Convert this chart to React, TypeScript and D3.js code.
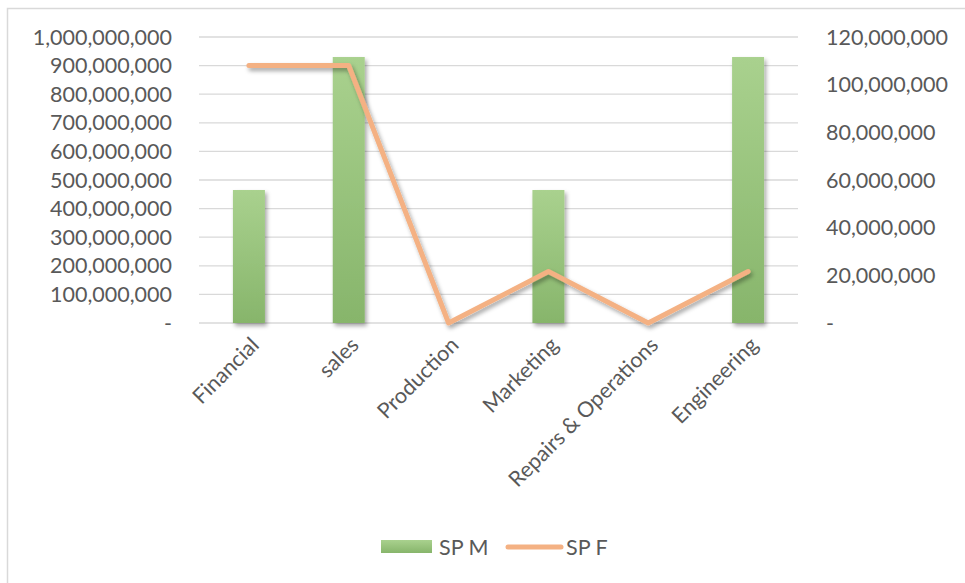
import React from "react";
import * as d3 from "d3";

const categories = ["Financial", "sales", "Production", "Marketing", "Repairs & Operations", "Engineering"];
const spM = [465000000, 930000000, 0, 465000000, 0, 930000000];
const spF = [108000000, 108000000, 0, 21600000, 0, 21600000];
const leftTicks = [0, 100e6, 200e6, 300e6, 400e6, 500e6, 600e6, 700e6, 800e6, 900e6, 1000e6];
const rightTicks = [0, 20e6, 40e6, 60e6, 80e6, 100e6, 120e6];

const W = 965;
const H = 583;
const font = "Lato, 'Open Sans', sans-serif";
const textColor = "#595959";
const fs = 21.5;

export default function App() {
  const left = 199;
  const right = 798;
  const top = 37;
  const bottom = 323;

  const x = d3.scaleBand().domain(categories).range([left, right]);
  const yL = d3.scaleLinear().domain([0, 1e9]).range([bottom, top]);
  const yR = d3.scaleLinear().domain([0, 120e6]).range([bottom, top]);
  const fmt = (v: number) => (v === 0 ? "-" : d3.format(",")(v));
  const barW = 32;

  const line = d3
    .line<number>()
    .x((d, i) => x(categories[i])! + x.bandwidth() / 2)
    .y(d => yR(d));

  return (
    <svg width={W} height={H} style={{ position: "absolute", left: 0, top: 0 }}>
      <defs>
        <linearGradient id="barGrad" x1="0" y1="0" x2="0" y2="1">
          <stop offset="0%" stopColor="#A9D18E" />
          <stop offset="100%" stopColor="#87B56B" />
        </linearGradient>
        <filter id="shadow" x="-20%" y="-20%" width="140%" height="140%">
          <feDropShadow dx="2" dy="3" stdDeviation="2" floodColor="#000" floodOpacity="0.35" />
        </filter>
      </defs>
      <rect x={0} y={0} width={W} height={H} fill="#fff" />
      <rect x={7.5} y={8.5} width={W + 20} height={H + 20} fill="none" stroke="#D9D9D9" strokeWidth={1.5} />

      {/* gridlines */}
      {leftTicks.map(t => (
        <line key={t} x1={left} x2={right} y1={yL(t)} y2={yL(t)} stroke="#D9D9D9" strokeWidth={1.3} />
      ))}

      {/* left axis */}
      {leftTicks.map(t => (
        <text key={t} x={172} y={yL(t)} dy="0.35em" textAnchor="end" fontFamily={font} fontSize={fs} fill={textColor}>
          {fmt(t)}
        </text>
      ))}

      {/* right axis */}
      {rightTicks.map(t => (
        <text key={t} x={826} y={yR(t)} dy="0.35em" textAnchor="start" fontFamily={font} fontSize={fs} fill={textColor}>
          {fmt(t)}
        </text>
      ))}

      {/* bars */}
      {spM.map((v, i) => (
        <rect
          key={categories[i]}
          x={x(categories[i])! + x.bandwidth() / 2 - barW / 2}
          y={yL(v)}
          width={barW}
          height={bottom - yL(v)}
          fill="url(#barGrad)"
          filter="url(#shadow)"
        />
      ))}

      {/* line */}
      <path
        d={line(spF)!}
        fill="none"
        stroke="#F4B183"
        strokeWidth={5}
        strokeLinecap="round"
        strokeLinejoin="round"
        filter="url(#shadow)"
      />

      {/* x labels */}
      {categories.map(c => {
        const cx = x(c)! + x.bandwidth() / 2 + 6;
        const cy = bottom + 18;
        return (
          <text
            key={c}
            transform={`translate(${cx},${cy}) rotate(-45)`}
            textAnchor="end"
            dy="0.35em"
            fontFamily={font}
            fontSize={fs}
            fill={textColor}
          >
            {c}
          </text>
        );
      })}

      {/* legend */}
      <rect x={381} y={540} width={51} height={13} fill="url(#barGrad)" />
      <text x={439} y={547} dy="0.35em" fontFamily={font} fontSize={fs} fill={textColor}>SP M</text>
      <line x1={508} x2={561} y1={547} y2={547} stroke="#F4B183" strokeWidth={5} strokeLinecap="round" />
      <text x={566} y={547} dy="0.35em" fontFamily={font} fontSize={fs} fill={textColor}>SP F</text>
    </svg>
  );
}
